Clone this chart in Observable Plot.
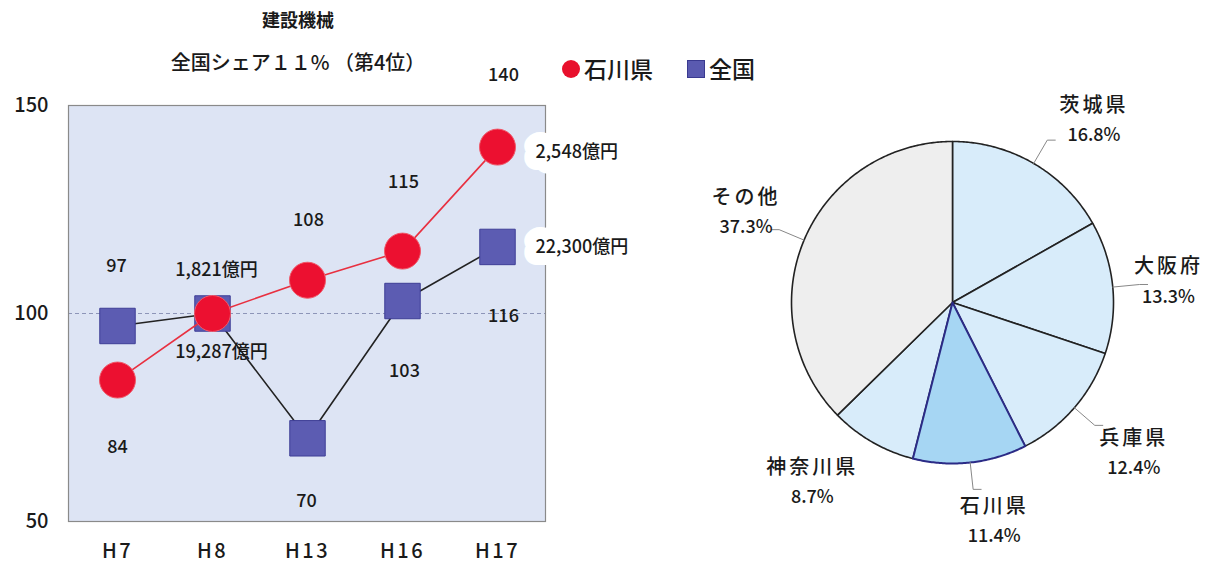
<!DOCTYPE html>
<html><head><meta charset="utf-8">
<script src="https://cdn.jsdelivr.net/npm/d3@7"></script>
<script src="https://cdn.jsdelivr.net/npm/@observablehq/plot@0.6"></script>
<style>
body{margin:0;background:#fff;font-family:"Noto Sans CJK JP",sans-serif;}
#wrap{position:relative;width:1215px;height:567px;overflow:hidden;background:#fff;}
#line{position:absolute;left:0;top:0;}
#pie{position:absolute;left:700px;top:0;}
.t{position:absolute;white-space:nowrap;color:#1a1a1a;line-height:1;font-weight:500;}
#title{left:0;width:596px;text-align:center;top:10px;font-size:18px;font-weight:bold;}
#subtitle{left:0;width:596px;text-align:center;top:52px;font-size:20px;}
#legend{left:562px;top:57px;font-size:23px;display:flex;align-items:center;}
.sw{display:inline-block;width:18px;height:18px;margin-right:4px;}
[aria-label="x-axis tick label"] text{letter-spacing:2.5px;}
.pname{letter-spacing:3px;}
svg text{font-weight:500;}
</style>
</head><body>
<div id="wrap">
  <div id="line"></div>
  <div id="pie"></div>
  <div class="t" id="title">建設機械</div>
  <div class="t" id="subtitle">全国シェア１１% （第4位）</div>
  <div class="t" id="legend">
    <span class="sw" style="background:#e8102c;border-radius:50%;"></span><span>石川県</span>
    <span class="sw" style="background:#5a5ab0;margin-left:34px;border:1px solid #3a3a90;width:16px;height:16px;"></span><span>全国</span>
  </div>
</div>
<script>
// ---- data ----
const years = ["H7", "H8", "H13", "H16", "H17"];
const ishikawa = [84, 100, 108, 115, 140];
const national = [97, 100, 70, 103, 116];
const yTicks = [50, 100, 150];
const ishikawaAmounts = ["1,821億円", "2,548億円"]; // H8, H17
const nationalAmounts = ["19,287億円", "22,300億円"]; // H8, H17
const prefs = ["茨城県", "大阪府", "兵庫県", "石川県", "神奈川県", "その他"];
const shares = [16.8, 13.3, 12.4, 11.4, 8.7, 37.3];

// ---- line chart ----
const red = years.map((year, i) => ({year, v: ishikawa[i], i}));
const blue = years.map((year, i) => ({year, v: national[i], i}));
const redText = red.map(d => d.i === 1 ? ishikawaAmounts[0] : String(d.v));
const blueText = blue.map(d => d.i === 1 ? nationalAmounts[0] : String(d.v));
// label offsets (layout)
const redDx = [0, 4, 1, 1, 6], redDy = [67, -43, -60, -69, -72];
const blueDx = [-1, 9, -1, 2, 6], blueDy = [-60, 39, 63, 70, 69];
const font = "Noto Sans CJK JP";

const labelMarks = [];
red.forEach((d, i) => labelMarks.push(Plot.text([d], {x: "year", y: "v", text: () => redText[i], dx: redDx[i], dy: redDy[i], fontSize: 18, fill: "#1a1a1a"})));
blue.forEach((d, i) => labelMarks.push(Plot.text([d], {x: "year", y: "v", text: () => blueText[i], dx: blueDx[i], dy: blueDy[i], fontSize: 18, fill: "#1a1a1a"})));

const last = years.length - 1;
const amountMarks = [
  Plot.text([red[last]], {x: "year", y: "v", text: () => ishikawaAmounts[1], dx: 38, dy: 5, textAnchor: "start", fontSize: 18, fill: "#1a1a1a", stroke: "white", strokeWidth: 24, strokeLinejoin: "round"}),
  Plot.text([blue[last]], {x: "year", y: "v", text: () => nationalAmounts[1], dx: 38, dy: 0, textAnchor: "start", fontSize: 18, fill: "#1a1a1a", stroke: "white", strokeWidth: 24, strokeLinejoin: "round"})
];

const linePlot = Plot.plot({
  width: 700, height: 567,
  marginLeft: 68, marginRight: 155, marginTop: 105, marginBottom: 46,
  style: {fontFamily: font, background: "transparent", color: "#1a1a1a", overflow: "visible"},
  x: {type: "point", domain: years, padding: 0.5, label: null},
  y: {domain: [50, 150], label: null},
  marks: [
    Plot.frame({fill: "#dde4f4", stroke: "none"}),
    Plot.ruleY([100], {stroke: "#8d95b8", strokeDasharray: "4,3", strokeWidth: 1}),
    Plot.frame({stroke: "#8a8a8a", strokeWidth: 1.2}),
    Plot.axisY({ticks: yTicks, tickSize: 0, tickPadding: 20, fontSize: 20, tickFormat: d => String(d)}),
    Plot.axisX({tickSize: 0, tickPadding: 22, fontSize: 20}),
    Plot.line(blue, {x: "year", y: "v", stroke: "#222", strokeWidth: 1.6}),
    Plot.dot(blue, {x: "year", y: "v", symbol: "square", r: 20, fill: "#5c5cb2", stroke: "#3e3e96", strokeWidth: 1}),
    Plot.line(red, {x: "year", y: "v", stroke: "#e83040", strokeWidth: 1.6}),
    Plot.dot(red, {x: "year", y: "v", r: 18, fill: "#ec1030", stroke: "#f05a6a", strokeWidth: 1}),
    ...labelMarks,
    ...amountMarks
  ]
});
document.getElementById("line").appendChild(linePlot);

// ---- pie chart ----
const R = 161;
const arcs = d3.pie().sort(null).value(d => d)(shares);
const fills = ["#d8ecfa", "#d8ecfa", "#d8ecfa", "#a6d6f3", "#d8ecfa", "#eeeeee"];
const strokes = ["#222", "#222", "#222", "#2b2b86", "#222", "#222"];
const slicePts = arcs.map((a, i) => {
  const pts = [{x: 0, y: 0, i}];
  const n = Math.max(4, Math.ceil((a.endAngle - a.startAngle) / 0.01));
  for (let k = 0; k <= n; k++) {
    const t = a.startAngle + (a.endAngle - a.startAngle) * k / n;
    pts.push({x: R * Math.sin(t), y: R * Math.cos(t), i});
  }
  return pts;
});
const mid = a => (a.startAngle + a.endAngle) / 2;
// label nudges (layout), data units with y up
const nudge = [[28, -11], [-8, 0], [11, -3], [17, 6], [-28, 16], [1, 4]];
const labels = arcs.map((a, i) => ({
  name: prefs[i], pct: shares[i].toFixed(1) + "%",
  x: 225 * Math.sin(mid(a)) + nudge[i][0],
  y: 225 * Math.cos(mid(a)) + nudge[i][1]
}));
const hasLeader = [true, true, true, true, false, true];
const leaders = arcs.flatMap((a, i) => {
  if (!hasLeader[i]) return [];
  const m = mid(a), s = Math.sign(Math.sin(m)) || 1;
  const ex = 188 * Math.sin(m), ey = 188 * Math.cos(m);
  return [
    {x: R * Math.sin(m), y: R * Math.cos(m), i},
    {x: ex, y: ey, i},
    {x: ex + 8 * s, y: ey, i}
  ];
});

const order = [0, 1, 2, 4, 5, 3];
const piePlot = Plot.plot({
  width: 515, height: 567, margin: 0,
  style: {fontFamily: font, background: "transparent", color: "#1a1a1a", overflow: "visible"},
  x: {domain: [-252, 263], axis: null},
  y: {domain: [-265, 302], axis: null},
  marks: [
    ...order.map(i => Plot.line(slicePts[i], {x: "x", y: "y", curve: "linear-closed", fill: fills[i], stroke: strokes[i], strokeWidth: i === 3 ? 2 : 1.6})),
    Plot.line(leaders, {x: "x", y: "y", z: "i", stroke: "#888", strokeWidth: 1}),
    Plot.text(labels, {x: "x", y: "y", text: "name", dy: -14, fontSize: 20, fill: "#1a1a1a", className: "pname"}),
    Plot.text(labels, {x: "x", y: "y", text: "pct", dy: 16, fontSize: 18, fill: "#1a1a1a"})
  ]
});
document.getElementById("pie").appendChild(piePlot);
</script>
</body></html>
